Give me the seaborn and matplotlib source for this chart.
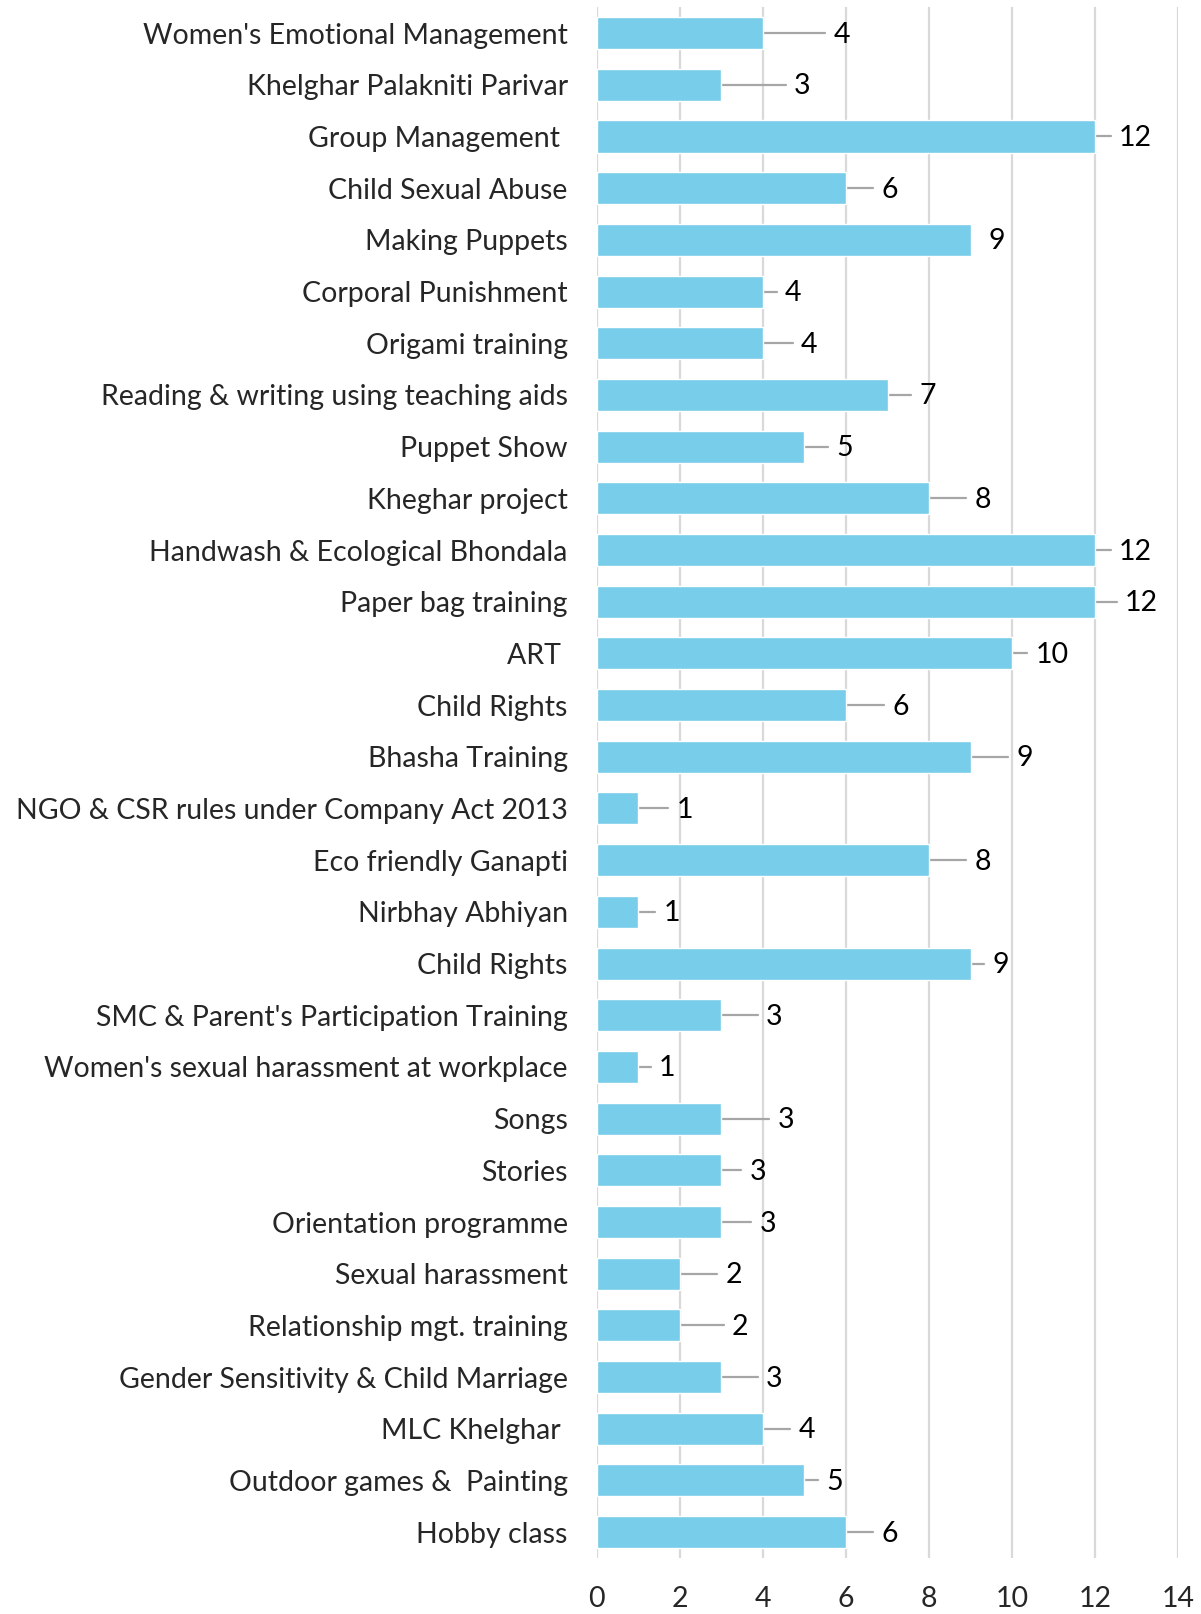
import pandas as pd
import matplotlib.pyplot as plt
import seaborn as sns

# Training programmes, top to bottom as in the chart
programmes = [
    "Women's Emotional Management", "Khelghar Palakniti Parivar", "Group Management ",
    "Child Sexual Abuse", "Making Puppets", "Corporal Punishment", "Origami training",
    "Reading & writing using teaching aids", "Puppet Show", "Kheghar project",
    "Handwash & Ecological Bhondala", "Paper bag training", "ART ", "Child Rights",
    "Bhasha Training", "NGO & CSR rules under Company Act 2013", "Eco friendly Ganapti",
    "Nirbhay Abhiyan", "Child Rights", "SMC & Parent's Participation Training",
    "Women's sexual harassment at workplace", "Songs", "Stories", "Orientation programme",
    "Sexual harassment", "Relationship mgt. training", "Gender Sensitivity & Child Marriage",
    "MLC Khelghar ", "Outdoor games &  Painting", "Hobby class",
]
counts = [4, 3, 12, 6, 9, 4, 4, 7, 5, 8, 12, 12, 10, 6, 9, 1, 8, 1, 9, 3, 1, 3, 3, 3, 2, 2, 3, 4, 5, 6]

# how far each data label was dragged right of its bar (x units), like the Excel original
label_shift = [1.70, 1.75, 0.57, 0.85, 0.42, 0.53, 0.92, 0.77, 0.77, 1.10,
               0.57, 0.72, 0.57, 1.12, 1.10, 0.92, 1.10, 0.60, 0.52, 1.07,
               0.50, 1.35, 0.67, 0.92, 1.10, 1.25, 1.07, 0.85, 0.52, 0.85]

sns.set_style("white")
plt.rcParams["font.family"] = ["Lato", "DejaVu Sans"]
FS = 20.5

df = pd.DataFrame({"row": range(len(programmes)), "count": counts})

fig = plt.figure(figsize=(12.01, 16.14), dpi=100)
ax = fig.add_axes([0.497, 0.0347, 0.484, 0.9608])

sns.barplot(data=df, x="count", y="row", orient="h", color="#78CDEA",
            saturation=1, width=0.62, ax=ax, zorder=3)

ax.set_xlim(0, 14)
ax.set_xticks(range(0, 15, 2))
ax.set_yticks(range(len(programmes)))
ax.set_yticklabels(programmes)
ax.set_ylim(len(programmes) - 0.5, -0.5)
ax.set_xlabel("")
ax.set_ylabel("")
ax.tick_params(axis="y", length=0, pad=21, labelsize=FS)
ax.tick_params(axis="x", length=0, pad=20, labelsize=FS)
ax.grid(axis="x", color="#d9d9d9", linewidth=1.6, zorder=0)
ax.set_axisbelow(True)
for s in ax.spines.values():
    s.set_visible(False)

# data labels with leader lines
for i, (v, sh) in enumerate(zip(counts, label_shift)):
    if sh > 0.45:
        ax.plot([v, v + sh - 0.2], [i, i], color="#a6a6a6", linewidth=1.6, zorder=2)
    ax.text(v + sh, i + 0.03, str(v), ha="left", va="center", fontsize=FS, color="black")

fig.savefig("out.png", dpi=100)
